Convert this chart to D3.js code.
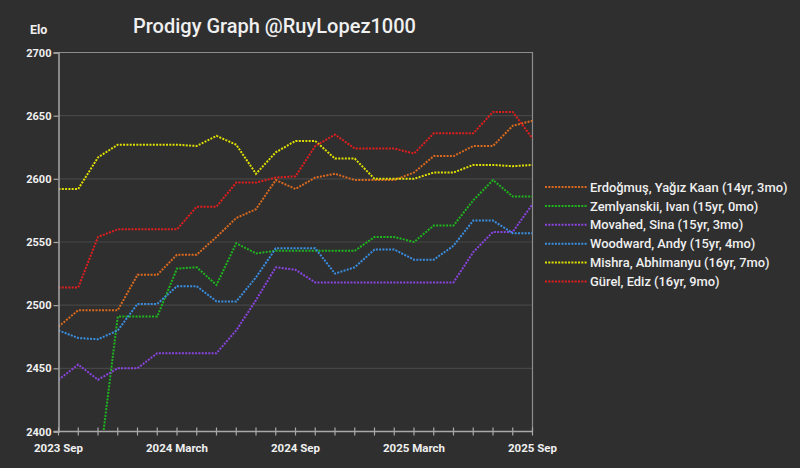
<!DOCTYPE html>
<html>
<head>
<meta charset="utf-8">
<script src="https://cdn.jsdelivr.net/npm/d3@7"></script>
<style>
  html, body { margin: 0; padding: 0; background: #2f2f2f; }
  svg { display: block; }
  text { font-family: Roboto, "Noto Sans", sans-serif; fill: #f0f0f0; }
</style>
</head>
<body>
<svg id="chart" width="800" height="468"></svg>
<script>
// ---- data ----
const months = ["2023 Sep","2023 Oct","2023 Nov","2023 Dec","2024 Jan","2024 Feb","2024 March","2024 Apr","2024 May","2024 Jun","2024 Jul","2024 Aug","2024 Sep","2024 Oct","2024 Nov","2024 Dec","2025 Jan","2025 Feb","2025 March","2025 Apr","2025 May","2025 Jun","2025 Jul","2025 Aug","2025 Sep"];
const xTickLabels = ["2023 Sep","2024 March","2024 Sep","2025 March","2025 Sep"];
const xTickIdx = [0, 6, 12, 18, 24];
const yTicks = [2400, 2450, 2500, 2550, 2600, 2650, 2700];

const seriesNames = [
  "Erdoğmuş, Yağız Kaan (14yr, 3mo)",
  "Zemlyanskii, Ivan (15yr, 0mo)",
  "Movahed, Sina (15yr, 3mo)",
  "Woodward, Andy (15yr, 4mo)",
  "Mishra, Abhimanyu (16yr, 7mo)",
  "Gürel, Ediz (16yr, 9mo)"
];
const seriesColors = ["#d9691e", "#1fb51f", "#8a44e0", "#3a8ee0", "#e0e000", "#e01e1e"];

const erdogmus   = [2483,2496,2496,2496,2524,2524,2540,2540,2554,2569,2576,2599,2592,2601,2604,2599,2599,2599,2605,2618,2618,2626,2626,2642,2646];
const zemlyanskii= [null,null,2365,2491,2491,2491,2529,2530,2516,2549,2541,2543,2543,2543,2543,2543,2554,2554,2550,2563,2563,2583,2599,2586,2586];
const movahed    = [2441,2453,2441,2450,2450,2462,2462,2462,2462,2480,2504,2530,2528,2518,2518,2518,2518,2518,2518,2518,2518,2542,2558,2558,2580];
const woodward   = [2480,2474,2473,2480,2501,2501,2515,2515,2503,2503,2522,2545,2545,2545,2525,2530,2544,2544,2536,2536,2547,2567,2567,2557,2557];
const mishra     = [2592,2592,2617,2627,2627,2627,2627,2626,2634,2627,2604,2621,2630,2630,2616,2616,2600,2600,2600,2605,2605,2611,2611,2610,2611];
const gurel      = [2514,2514,2554,2560,2560,2560,2560,2578,2578,2597,2597,2601,2602,2626,2635,2624,2624,2624,2620,2636,2636,2636,2653,2653,2632];

const seriesValues = [erdogmus, zemlyanskii, movahed, woodward, mishra, gurel];

// ---- layout ----
const svg = d3.select("#chart");
const pLeft = 58.5, pRight = 532.5, pTop = 52.5, pBottom = 431.5;

const x = d3.scaleLinear().domain([0, months.length - 1]).range([pLeft, pRight]);
const y = d3.scaleLinear().domain([2400, 2700]).range([pBottom, pTop]);

svg.append("rect").attr("width", 800).attr("height", 468).attr("fill", "#2f2f2f");

// gridlines
svg.append("g").selectAll("line")
  .data(yTicks.filter(v => v > 2400 && v < 2700))
  .join("line")
  .attr("x1", pLeft).attr("x2", pRight)
  .attr("y1", d => y(d)).attr("y2", d => y(d))
  .attr("stroke", "#464646").attr("stroke-width", 1.2);

// frame (top and right)
svg.append("path")
  .attr("d", `M${pLeft},${pTop}H${pRight}V${pBottom}`)
  .attr("fill", "none").attr("stroke", "#8c8c8c").attr("stroke-width", 1.2);

// clip
svg.append("clipPath").attr("id", "clip")
  .append("rect").attr("x", pLeft).attr("y", pTop).attr("width", pRight - pLeft).attr("height", pBottom - pTop);

// lines
const lineGen = d3.line()
  .defined(d => d != null)
  .x((d, i) => x(i))
  .y(d => y(d));

svg.append("g").attr("clip-path", "url(#clip)")
  .selectAll("path")
  .data(seriesValues)
  .join("path")
  .attr("d", d => lineGen(d))
  .attr("fill", "none")
  .attr("stroke", (d, i) => seriesColors[i])
  .attr("stroke-width", 2)
  .attr("stroke-dasharray", "2,1.3");

// y axis
const yAxis = d3.axisLeft(y).tickValues(yTicks).tickSize(5).tickPadding(2).tickFormat(d3.format("d"));
const yg = svg.append("g").attr("transform", `translate(${pLeft},0)`).call(yAxis);
yg.select(".domain").attr("stroke", "#a8a8a8").attr("stroke-width", 1.5);
yg.selectAll(".tick line").attr("stroke", "#a8a8a8").attr("stroke-width", 1.2);
yg.selectAll(".tick text").attr("fill", "#f0f0f0").style("font-size", "11px").style("font-weight", "bold").attr("font-family", "Roboto, sans-serif");

// x axis
const xg = svg.append("g").attr("transform", `translate(0,${pBottom})`);
xg.append("line").attr("x1", pLeft - 5).attr("x2", pRight).attr("y1", 0).attr("y2", 0)
  .attr("stroke", "#a8a8a8").attr("stroke-width", 1.5);
xg.selectAll("line.tk").data(d3.range(months.length)).join("line").attr("class", "tk")
  .attr("x1", d => x(d)).attr("x2", d => x(d)).attr("y1", -4).attr("y2", 4)
  .attr("stroke", "#a8a8a8").attr("stroke-width", 1.2);
xg.selectAll("text").data(xTickIdx).join("text")
  .attr("x", d => x(d)).attr("y", 20)
  .attr("text-anchor", "middle")
  .style("font-size", "11.5px").style("font-weight", "bold")
  .text((d, i) => xTickLabels[i]);

// axis title
svg.append("text").attr("x", 30).attr("y", 34).style("font-size", "12.5px").style("font-weight", "bold").text("Elo");

// title
svg.append("text").attr("x", 133).attr("y", 33).style("font-size", "20px").style("font-weight", "500").text("Prodigy Graph @RuyLopez1000");

// legend
const lg = svg.append("g");
const legendY = i => 187 + i * 18.9;
lg.selectAll("line").data(seriesNames).join("line")
  .attr("x1", 545).attr("x2", 587)
  .attr("y1", (d, i) => legendY(i)).attr("y2", (d, i) => legendY(i))
  .attr("stroke", (d, i) => seriesColors[i]).attr("stroke-width", 2).attr("stroke-dasharray", "2,1.3");
lg.selectAll("text").data(seriesNames).join("text")
  .attr("x", 590).attr("y", (d, i) => legendY(i) + 4.6)
  .style("font-size", "12.9px").style("font-weight", "500")
  .text(d => d);
</script>
</body>
</html>
